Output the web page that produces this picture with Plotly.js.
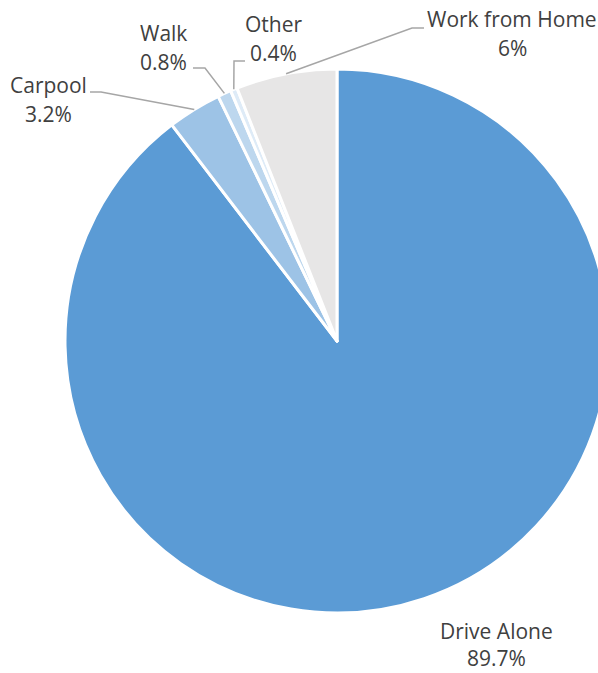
<!DOCTYPE html>
<html>
<head>
<meta charset="utf-8">
<script src="https://cdn.plot.ly/plotly-3.0.1.min.js"></script>
<style>
html,body{margin:0;padding:0;overflow:hidden;background:#fff;}
#chart{width:640px;height:673px;}
</style>
</head>
<body>
<div id="chart"></div>
<script>
// Data
const categories = ["Drive Alone", "Carpool", "Walk", "Other", "Work from Home"];
const shares = [89.7, 3.2, 0.8, 0.4, 6];
const shareLabels = ["89.7%", "3.2%", "0.8%", "0.4%", "6%"];
const sliceColors = ["#5B9BD5", "#9DC3E6", "#BDD7EE", "#DEEBF7", "#E7E6E6"];

// Layout geometry (pixels)
const W = 640, H = 673;
const M = {l: 65, r: 31, t: 69, b: 60};
const plotW = W - M.l - M.r, plotH = H - M.t - M.b;
const cx = M.l + plotW / 2, cy = M.t + plotH / 2;
const R = Math.min(plotW, plotH) / 2;
const px2x = px => (px - M.l) / plotW;
const py2y = py => (H - M.b - py) / plotH;

// Label placement (text centre of first line, pixels) and leader elbow points
const labelPos = {
  "Drive Alone":    {x: 496, y: 631, gap: 27, leader: null},
  "Carpool":        {x: 48,  y: 85,  gap: 29, leader: [[90, 92], [101, 92]]},
  "Walk":           {x: 163, y: 33,  gap: 29, leader: [[193, 68], [205, 68]]},
  "Other":          {x: 273, y: 24,  gap: 29, leader: [[245, 61], [234, 61]]},
  "Work from Home": {x: 512, y: 19,  gap: 29, leader: [[424, 28], [412, 28]]}
};

const total = shares.reduce((a, b) => a + b, 0);
const annotations = [];
const shapes = [];
let cum = 0;
categories.forEach((c, i) => {
  const mid = (cum + shares[i] / 2) / total * 2 * Math.PI;
  cum += shares[i];
  const p = labelPos[c];
  const font = {family: "'Open Sans', Lato, sans-serif", size: 21, color: "#404040"};
  annotations.push({xref: "paper", yref: "paper", x: px2x(p.x), y: py2y(p.y), text: c,
    showarrow: false, xanchor: "center", yanchor: "middle", borderpad: 0, font: font});
  annotations.push({xref: "paper", yref: "paper", x: px2x(p.x), y: py2y(p.y + p.gap), text: shareLabels[i],
    showarrow: false, xanchor: "center", yanchor: "middle", borderpad: 0, font: font});
  if (p.leader) {
    const ex = cx + R * Math.sin(mid), ey = cy - R * Math.cos(mid);
    const pts = p.leader.concat([[ex, ey]]);
    const path = pts.map((q, k) => (k ? "L" : "M") + px2x(q[0]).toFixed(5) + "," + py2y(q[1]).toFixed(5)).join(" ");
    shapes.push({type: "path", xref: "paper", yref: "paper", path: path,
      line: {color: "#A6A6A6", width: 1.5}});
  }
});

const trace = {
  type: "pie",
  labels: categories,
  values: shares,
  sort: false,
  direction: "clockwise",
  rotation: 0,
  textinfo: "none",
  hoverinfo: "label+percent",
  marker: {colors: sliceColors, line: {color: "#FFFFFF", width: 3}},
  domain: {x: [0, 1], y: [0, 1]}
};

const layout = {
  width: W, height: H,
  margin: M,
  showlegend: false,
  paper_bgcolor: "#FFFFFF",
  plot_bgcolor: "#FFFFFF",
  annotations: annotations,
  shapes: shapes
};

Plotly.newPlot("chart", [trace], layout, {displayModeBar: false, staticPlot: true});
</script>
</body>
</html>
